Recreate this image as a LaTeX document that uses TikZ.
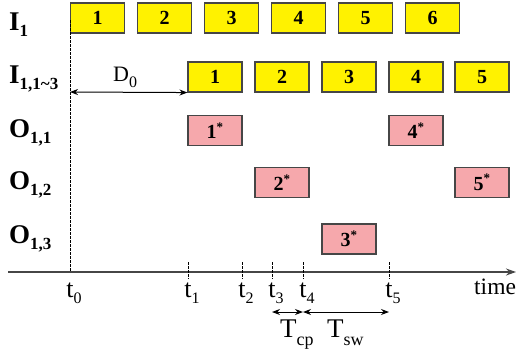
\documentclass[tikz,border=0pt]{standalone}
\usepackage{fontspec}
\setmainfont{Liberation Serif}
\usetikzlibrary{arrows.meta}
\definecolor{boxyellow}{RGB}{255,242,0}
\definecolor{boxpink}{RGB}{246,168,172}
\definecolor{edgegray}{RGB}{70,70,70}
\begin{document}
\begin{tikzpicture}[x=1pt,y=-1pt,
  slot/.style={draw=edgegray,line width=1.1pt,minimum width=54pt,minimum height=30pt,inner sep=0pt,
    font=\fontsize{20}{20}\selectfont\bfseries},
  inslot/.style={slot,fill=boxyellow},
  outslot/.style={slot,fill=boxpink},
  rowlab/.style={anchor=base west,inner sep=0pt,font=\fontsize{27}{27}\selectfont\bfseries},
  ticklab/.style={anchor=base west,inner sep=0pt,font=\fontsize{26}{26}\selectfont},
  dlab/.style={anchor=base west,inner sep=0pt,font=\fontsize{22}{22}\selectfont},
  tlab/.style={anchor=base west,inner sep=0pt,font=\fontsize{27}{27}\selectfont},
  dim/.style={line width=1pt,{Stealth[length=8pt,width=6pt]}-{Stealth[length=8pt,width=6pt]}},
  tickline/.style={line width=0.9pt,dash pattern=on 2.5pt off 1.5pt}]
\useasboundingbox (0,0) rectangle (516,351);
\newcommand{\sst}{\textsuperscript{\fontsize{13}{13}\selectfont *}}
\newcommand{\sub}[1]{\raisebox{-6pt}{\fontsize{17}{17}\selectfont #1}}
\newcommand{\tsub}[1]{\raisebox{-6pt}{\fontsize{16}{16}\selectfont #1}}
\newcommand{\Tsub}[1]{\raisebox{-8pt}{\fontsize{18}{18}\selectfont #1}}
% row labels
\node[rowlab] (lI1) at (9,30) {I\sub{1}};
\node[rowlab] (lI2) at (9,83) {I\sub{1,1\textasciitilde3}};
\node[rowlab] (lO1) at (9,137) {O\sub{1,1}};
\node[rowlab] (lO2) at (9,189) {O\sub{1,2}};
\node[rowlab] (lO3) at (9,243) {O\sub{1,3}};
% input boxes
\foreach \i/\x in {1/97.5,2/164.5,3/231.5,4/298.5,5/365.5,6/432.5}
  \node[inslot] (a\i) at (\x,18) {\i};
\foreach \i/\x in {1/215,2/282,3/349,4/416,5/482}
  \node[inslot] (b\i) at (\x,77) {\i};
% output boxes
\node[outslot] (o1) at (215,130.5) {1\sst};
\node[outslot] (o4) at (416,130.5) {4\sst};
\node[outslot] (o2) at (282,182.5) {2\sst};
\node[outslot] (o5) at (482,182.5) {5\sst};
\node[outslot] (o3) at (349,239) {3\sst};
% axis
\coordinate (axs) at (8,272);
\coordinate (axe) at (516,272);
\draw[draw=edgegray,line width=1.4pt,-{Stealth[length=10pt,width=7pt]}] (axs) -- (axe);
\node[ticklab,font=\fontsize{23.5}{23.5}\selectfont] (time) at (474,294) {time};
% t0 dashed line
\coordinate (t0top) at (70,20);
\coordinate (t0) at (70,272);
\draw[tickline] (t0top) -- (t0);
% ticks
\foreach \n/\x in {1/188,2/242,3/272,4/303,5/389}{
  \coordinate (tt\n) at (\x,262);
  \coordinate (t\n) at (\x,279);
  \draw[tickline] (tt\n) -- (t\n);
}
\foreach \n/\x in {0/70,1/188,2/242,3/272,4/303,5/389}
  \node[ticklab] (tl\n) at (\x-3.8,297) {t\tsub{\n}};
% D0
\coordinate (d0s) at (70,92);
\draw[dim] (d0s) -- (b1.south west);
\node[dlab] (D0) at (113,81) {D\tsub{0}};
% Tcp, Tsw
\coordinate (c3) at (272,312);
\coordinate (c4) at (303,312);
\coordinate (c5) at (389,312);
\draw[dim] (c3) -- (c4);
\draw[dim] (c4) -- (c5);
\node[tlab] (Tcp) at (280,337) {T\Tsub{cp}};
\node[tlab] (Tsw) at (327,337) {T\Tsub{sw}};
\end{tikzpicture}
\end{document}
